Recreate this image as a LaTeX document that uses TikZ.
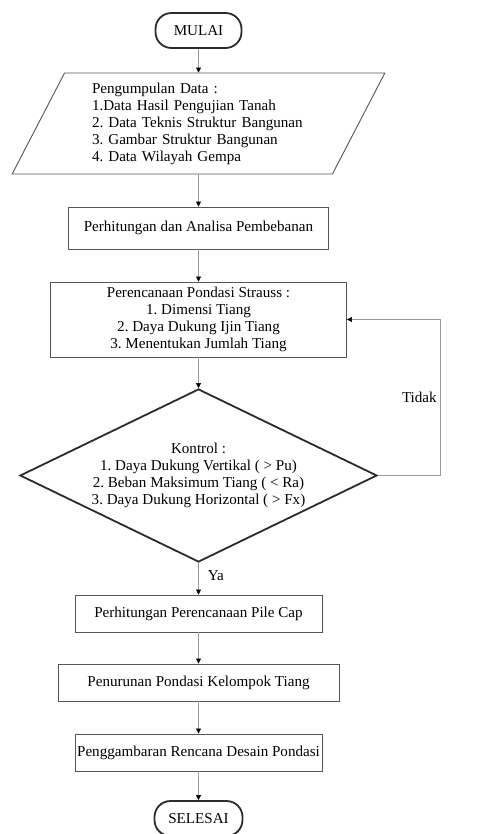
\documentclass[tikz,border=0pt]{standalone}
\usepackage{fontspec}
\setmainfont{Liberation Serif}
\usetikzlibrary{shapes.geometric, arrows.meta, positioning}
\definecolor{LineGray}{HTML}{9A9A9A}
\definecolor{BoxGray}{HTML}{555555}
\definecolor{DarkLine}{HTML}{2B2B2B}
\newcommand{\flowfont}{\fontsize{15.1}{17}\selectfont\frenchspacing}
\tikzset{
  % Box styles
  terminalbox/.style={rectangle, rounded corners=16pt, draw=DarkLine, line width=1.8pt, minimum height=35pt, inner sep=0pt, font=\flowfont},
  inputbox/.style={trapezium, trapezium left angle=63, trapezium right angle=117, trapezium stretches=true, draw=BoxGray, line width=0.9pt, minimum width=373pt, minimum height=101pt, inner sep=0pt, text width=213pt, align=left, font=\flowfont},
  processbox/.style={rectangle, draw=BoxGray, line width=0.9pt, minimum height=37pt, inner sep=0pt, align=center, font=\flowfont},
  decisionbox/.style={diamond, aspect=2.06, draw=DarkLine, line width=1.8pt, minimum width=357pt, minimum height=173pt, inner sep=0pt, align=center, font=\flowfont},
  % Arrow styles
  arrow/.style={-{Triangle[length=5pt, width=5pt, color=black]}, draw=LineGray, line width=0.6pt},
  labeltext/.style={font=\flowfont, inner sep=0pt}
}

\begin{document}
\begin{tikzpicture}[x=1pt, y=-1pt]
  \useasboundingbox (0,0) rectangle (494,834);
  \fill[white] (0,0) rectangle (494,834);

  % Start and data
  \node[terminalbox, minimum width=86pt] (mulai) at (198.5,30.5) {MULAI};
  \node[inputbox] (data) at (198.5,123.5) {
    Pengumpulan Data :\\
    1.Data Hasil Pengujian Tanah\\
    2. Data Teknis Struktur Bangunan\\
    3. Gambar Struktur Bangunan\\
    4. Data Wilayah Gempa
  };

  % Process steps
  \node[processbox, minimum width=260pt, minimum height=42pt] (beban) at (198.5,228) {Perhitungan dan Analisa Pembebanan};
  \node[processbox, minimum width=296pt, minimum height=75pt] (strauss) at (198.5,319.5) {
    Perencanaan Pondasi Strauss :\\
    1. Dimensi Tiang\\
    2. Daya Dukung Ijin Tiang\\
    3. Menentukan Jumlah Tiang
  };

  % Check
  \node[decisionbox] (kontrol) at (198.5,475.5) {
    Kontrol :\\
    1. Daya Dukung Vertikal ( > Pu)\\
    2. Beban Maksimum Tiang ( < Ra)\\
    3. Daya Dukung Horizontal ( > Fx)
  };

  \node[processbox, minimum width=247pt] (pilecap) at (198.5,613.5) {Perhitungan Perencanaan Pile Cap};
  \node[processbox, minimum width=281pt] (turun) at (198.5,682.5) {Penurunan Pondasi Kelompok Tiang};
  \node[processbox, minimum width=247pt] (desain) at (198.5,752.5) {Penggambaran Rencana Desain Pondasi};
  \node[terminalbox, minimum width=88pt] (selesai) at (198.5,818.5) {SELESAI};

  % Connectors
  \draw[arrow] (mulai.south) -- (data.north);
  \draw[arrow] (data.south) -- (beban.north);
  \draw[arrow] (beban.south) -- (strauss.north);
  \draw[arrow] (strauss.south) -- (kontrol.north);
  \draw[arrow] (kontrol.south) -- node[labeltext, right=9pt, pos=0.4] (ya) {Ya} (pilecap.north);
  \draw[arrow] (pilecap.south) -- (turun.north);
  \draw[arrow] (turun.south) -- (desain.north);
  \draw[arrow] (desain.south) -- (selesai.north);

  % Loop back
  \coordinate (balik) at (440,475.5);
  \draw[arrow] (kontrol.east) -- (balik) |- node[labeltext, left=3pt, pos=0.25] (tidak) {Tidak} (strauss.east);
\end{tikzpicture}
\end{document}
